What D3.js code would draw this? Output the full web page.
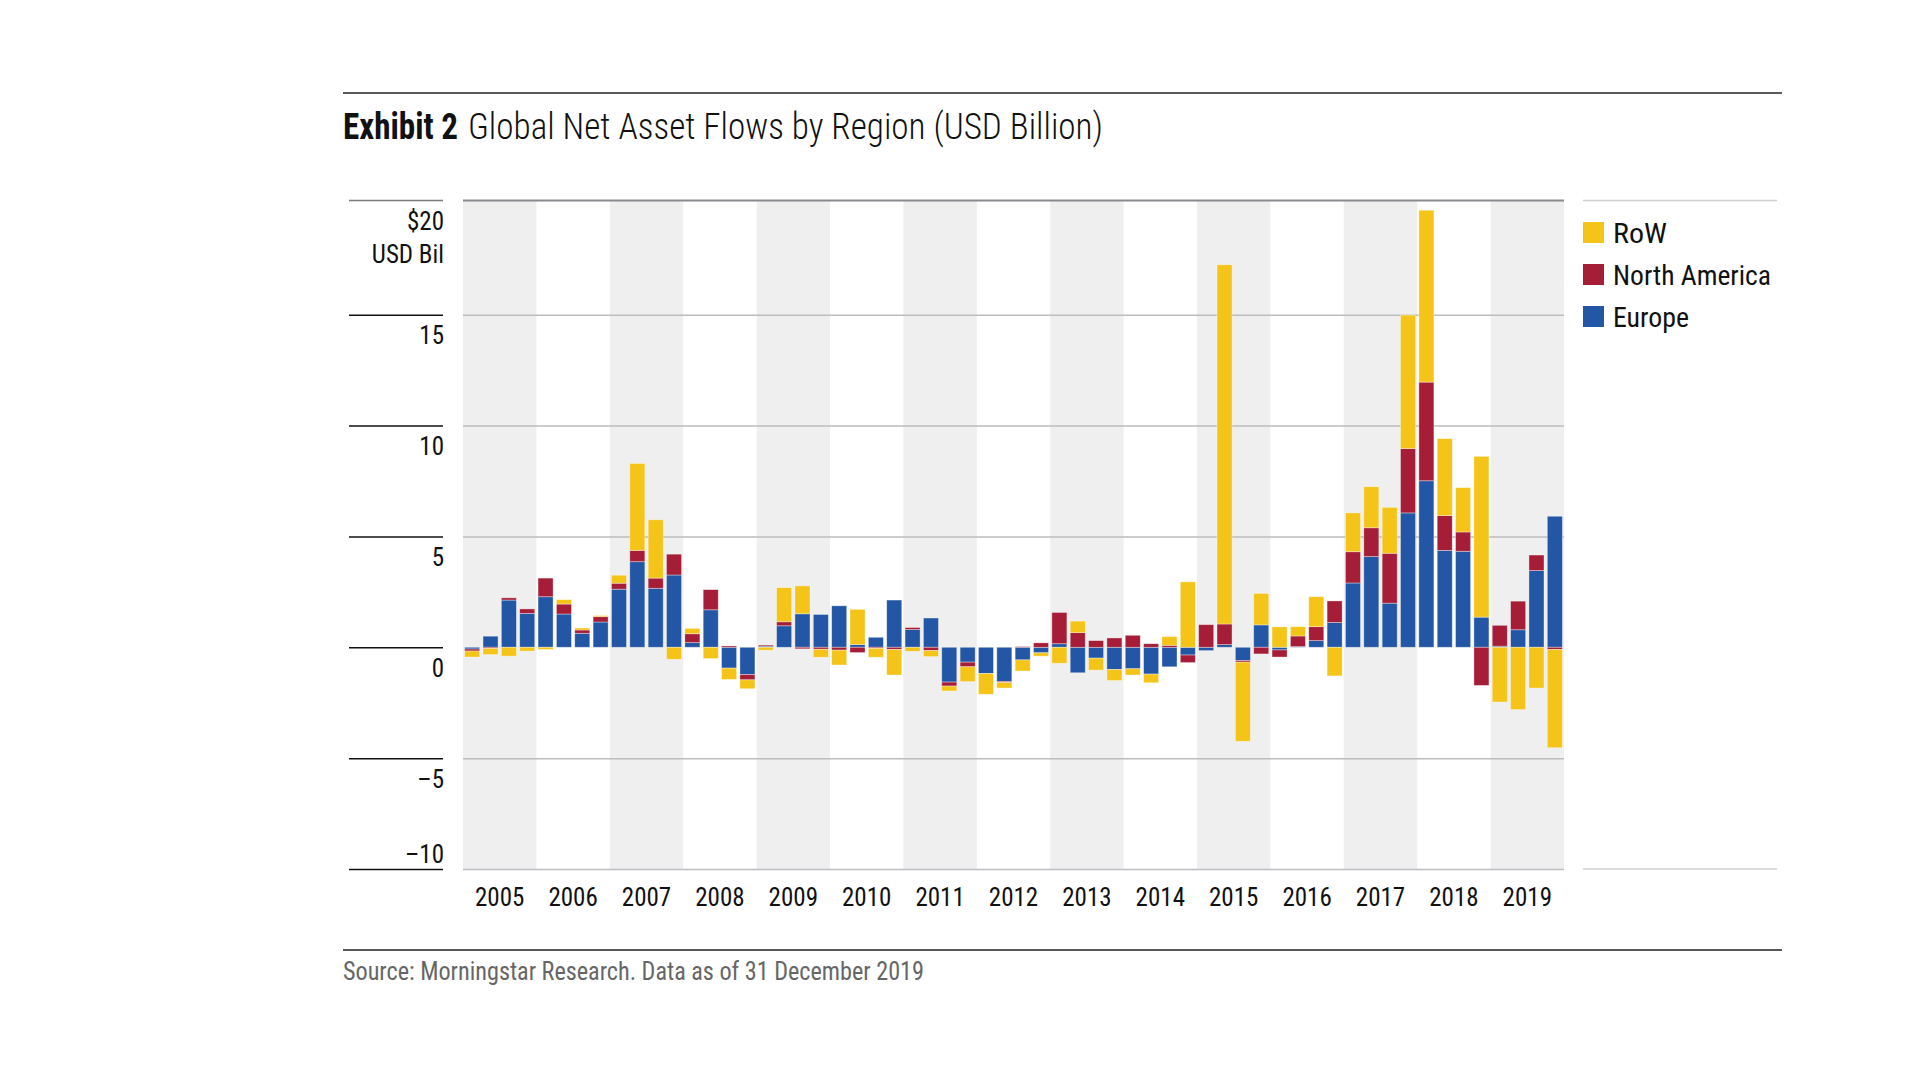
<!DOCTYPE html>
<html><head><meta charset="utf-8">
<script src="https://cdn.jsdelivr.net/npm/d3@7"></script>
<style>html,body{margin:0;background:#fff;} svg{display:block}</style>
</head><body><svg id="c" width="1920" height="1080"></svg>
<script>
// ---------- DATA ----------
const years = ["2005","2006","2007","2008","2009","2010","2011","2012","2013","2014","2015","2016","2017","2018","2019"];
const quarterNames = ["Q1","Q2","Q3","Q4"];
const europe = [
  -0.08, 0.50, 2.13, 1.53,   2.28, 1.50, 0.63, 1.14,   2.62, 3.86, 2.66, 3.26,
   0.21, 1.69,-0.94,-1.23,   0.05, 0.97, 1.51, 1.48,   1.87, 0.12, 0.45, 2.13,
   0.80, 1.32,-1.57,-0.67,  -1.18,-1.54,-0.57,-0.25,   0.16,-1.15,-0.49,-1.00,
  -0.97,-1.21,-0.88,-0.35,  -0.15, 0.12,-0.60, 1.01,  -0.12, 0.03, 0.30, 1.12,
   2.90, 4.09, 1.99, 6.06,   7.51, 4.37, 4.33, 1.36,   0.05, 0.79, 3.46, 5.91];
const northAmerica = [
  -0.09,-0.05, 0.10, 0.20,   0.84, 0.45, 0.15, 0.24,   0.27, 0.51, 0.46, 0.94,
   0.40, 0.91, 0.06,-0.24,   0.05, 0.18,-0.07,-0.09,  -0.13,-0.24,-0.05,-0.10,
   0.09,-0.15,-0.18,-0.21,   0.00,-0.05, 0.03, 0.20,   1.41, 0.66, 0.30, 0.42,
   0.54, 0.16, 0.09,-0.34,   1.02, 0.93,-0.07,-0.30,  -0.32, 0.48, 0.63, 0.97,
   1.41, 1.30, 2.25, 2.90,   4.45, 1.57, 0.87,-1.72,   0.94, 1.29, 0.70,-0.10];
const restOfWorld = [
  -0.27,-0.28,-0.40,-0.17,  -0.10, 0.20, 0.09, 0.05,   0.36, 3.92, 2.63,-0.54,
   0.24,-0.51,-0.51,-0.40,  -0.13, 1.54, 1.26,-0.36,  -0.67, 1.59,-0.40,-1.15,
  -0.18,-0.27,-0.22,-0.67,  -0.94,-0.25,-0.50,-0.15,  -0.72, 0.52,-0.54,-0.50,
  -0.28,-0.39, 0.39, 2.95,   0.00,16.20,-3.57, 1.42,   0.92, 0.42, 1.35,-1.29,
   1.75, 1.85, 2.07, 6.02,   7.75, 3.47, 2.00, 7.25,  -2.47,-2.81,-1.84,-4.43];
const yTicks = [-10, -5, 0, 5, 10, 15];
const yTopLabel = "$20";
const yUnitLabel = "USD Bil";
const seriesNames = ["RoW", "North America", "Europe"];

// ---------- FONT ----------
function pickFont(cands){
  const c = document.createElement('canvas').getContext('2d');
  const t = 'Exhibit 2 Global Net Asset Flows 2019 RoW';
  for (const f of cands){
    let ok = false;
    for (const base of ['monospace','serif']){
      c.font = `40px ${base}`; const w0 = c.measureText(t).width;
      c.font = `40px "${f}", ${base}`; const w1 = c.measureText(t).width;
      if (Math.abs(w0 - w1) > 0.5) ok = true;
    }
    if (ok) return f;
  }
  return 'Liberation Sans';
}
const FONT = `"${pickFont(["Roboto Condensed","Liberation Sans Narrow","DejaVu Sans Condensed","Arial Narrow"])}", "Liberation Sans", sans-serif`;

// ---------- LAYOUT ----------
const svg = d3.select('#c');
const L = 463, R = 1564, T = 200.5, B = 869;
const colors = {europe: "#2356a4", na: "#a51d37", row: "#f4c418"};

const quarters = [];
years.forEach(y => quarterNames.forEach(q => quarters.push(y + q)));
const data = quarters.map((q, i) => ({q, europe: europe[i], na: northAmerica[i], row: restOfWorld[i]}));

const x = d3.scaleBand().domain(quarters).range([L, R]).paddingInner(0.18).paddingOuter(0.09);
const xYear = d3.scaleBand().domain(years).range([L, R]);
const y = d3.scaleLinear().domain([-10, 20.15]).range([B, T]);

// rules
svg.append('line').attr('x1',343).attr('x2',1782).attr('y1',93).attr('y2',93).attr('stroke','#222').attr('stroke-width',1.5);
svg.append('line').attr('x1',343).attr('x2',1782).attr('y1',950).attr('y2',950).attr('stroke','#222').attr('stroke-width',1.5);

// title
svg.append('text').attr('x',343).attr('y',139).attr('font-family',FONT).attr('font-size',36).attr('font-weight','bold')
  .attr('fill','#111').attr('textLength',115).attr('lengthAdjust','spacingAndGlyphs').text('Exhibit 2');
svg.append('text').attr('x',468).attr('y',139).attr('font-family',FONT).attr('font-size',36).attr('font-weight',300)
  .attr('fill','#111').attr('textLength',635).attr('lengthAdjust','spacingAndGlyphs').text('Global Net Asset Flows by Region (USD Billion)');

// year shading
svg.append('g').selectAll('rect').data(years.filter((d,i)=>i%2===0)).join('rect')
  .attr('x', d => xYear(d)).attr('width', xYear.bandwidth()).attr('y', T).attr('height', B - T).attr('fill', '#efefef');

// gridlines
const grid = svg.append('g').attr('transform', `translate(${L},0)`)
  .call(d3.axisLeft(y).tickValues(yTicks).tickSize(-(R - L)).tickFormat(''));
grid.select('.domain').remove();
grid.selectAll('.tick line').attr('stroke', d => d === 0 ? 'none' : '#bdbdc1').attr('stroke-width', 1.5);
// top frame line
svg.append('line').attr('x1', L).attr('x2', R).attr('y1', T).attr('y2', T).attr('stroke', '#8a8a8e').attr('stroke-width', 2);

// left axis
const yAxis = svg.append('g').attr('transform', `translate(443,0)`)
  .call(d3.axisLeft(y).tickValues(yTicks).tickSize(94).tickFormat(d => d < 0 ? '\u2013' + Math.abs(d) : d));
yAxis.select('.domain').remove();
yAxis.selectAll('.tick line').attr('stroke', '#111').attr('stroke-width', 1.5);
yAxis.selectAll('.tick text').attr('x', 1).attr('dy', null).attr('y', d => d === -10 ? -7 : 29)
  .attr('font-family', FONT).attr('font-size', 25).attr('fill', '#111').attr('text-anchor','end');
yAxis.append('line').attr('x1', -94).attr('x2', 0).attr('y1', T).attr('y2', T).attr('stroke', '#7a7a7a').attr('stroke-width', 1.5);
yAxis.append('text').attr('x', 1).attr('y', T + 29).attr('text-anchor','end')
  .attr('font-family', FONT).attr('font-size', 25).attr('fill', '#111').text(yTopLabel);
yAxis.append('text').attr('x', 1).attr('y', T + 62).attr('text-anchor','end')
  .attr('font-family', FONT).attr('font-size', 25).attr('fill', '#111').text(yUnitLabel);

// bars
const stack = d3.stack().keys(['europe','na','row']).offset(d3.stackOffsetDiverging);
const series = stack(data);
svg.append('g').selectAll('g').data(series).join('g').attr('fill', s => colors[s.key])
  .selectAll('rect').data(s => s).join('rect')
  .attr('x', d => x(d.data.q)).attr('width', x.bandwidth())
  .attr('y', d => y(Math.max(d[0], d[1]))).attr('height', d => Math.abs(y(d[0]) - y(d[1])))
  .attr('stroke', 'rgba(255,255,255,0.45)').attr('stroke-width', 0.8);

// x axis
const xAxis = svg.append('g').attr('transform', `translate(0,${B})`).call(d3.axisBottom(xYear).tickSize(0).tickPadding(0));
xAxis.select('.domain').remove();
xAxis.selectAll('.tick text').attr('y', 37).attr('dy', null)
  .attr('font-family', FONT).attr('font-size', 25).attr('fill', '#111');

// legend
svg.append('line').attr('x1',1583).attr('x2',1777).attr('y1',T).attr('y2',T).attr('stroke','#cfcfd2').attr('stroke-width',1.5);
svg.append('line').attr('x1',1583).attr('x2',1777).attr('y1',B).attr('y2',B).attr('stroke','#cfcfd2').attr('stroke-width',1.5);
const legKeys = [{k:'row', n: seriesNames[0], w:54}, {k:'na', n: seriesNames[1], w:158}, {k:'europe', n: seriesNames[2], w:76}];
const leg = svg.append('g').selectAll('g').data(legKeys).join('g').attr('transform', (d,i) => `translate(1583,${222 + i*42})`);
leg.append('rect').attr('width', 21).attr('height', 21).attr('fill', d => colors[d.k]);
leg.append('text').attr('x', 30).attr('y', 20.5).attr('font-family', FONT).attr('font-size', 28).attr('fill', '#111')
  .attr('textLength', d => d.w).attr('lengthAdjust','spacingAndGlyphs').text(d => d.n);

// source
svg.append('text').attr('x',343).attr('y',980).attr('font-family',FONT).attr('font-size',25).attr('fill','#666')
  .attr('textLength',581).attr('lengthAdjust','spacingAndGlyphs').text('Source: Morningstar Research. Data as of 31 December 2019');
</script></body></html>
